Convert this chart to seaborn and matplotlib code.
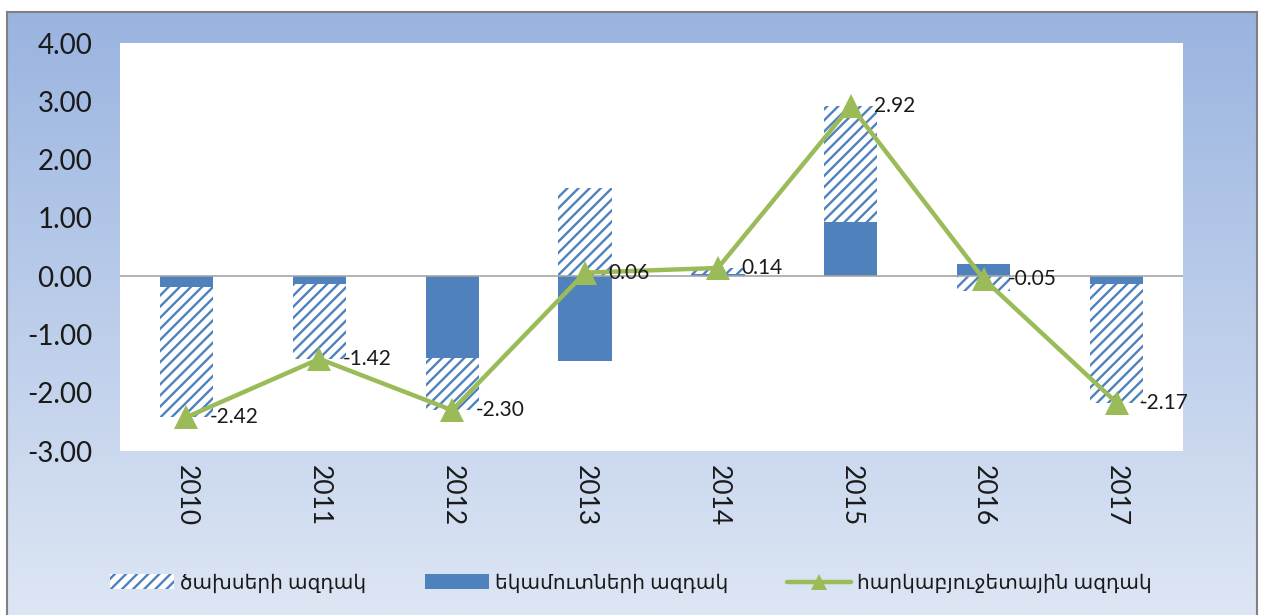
import numpy as np
import pandas as pd
import matplotlib
matplotlib.use("Agg")
import matplotlib.pyplot as plt
import matplotlib.patches as mpatches
from matplotlib.lines import Line2D
from matplotlib.colors import LinearSegmentedColormap
import seaborn as sns

sns.set_theme(style="white")
plt.rcParams['font.family'] = ['Lato', 'DejaVu Sans']
plt.rcParams['hatch.linewidth'] = 1.7

# data
years = ['2010', '2011', '2012', '2013', '2014', '2015', '2016', '2017']
revenue_impulse = [-0.18, -0.14, -1.40, -1.46, 0.04, 0.93, 0.20, -0.14]
spending_impulse = [-2.24, -1.28, -0.90, 1.52, 0.10, 1.99, -0.25, -2.03]
fiscal_impulse = [-2.42, -1.42, -2.30, 0.06, 0.14, 2.92, -0.05, -2.17]

labels = ['ծախսերի ազդակ', 'եկամուտների ազդակ', 'հարկաբյուջետային ազդակ']

blue = '#4F81BD'
green = '#9BBB59'

df = pd.DataFrame({'year': years, 'rev': revenue_impulse,
                   'exp': spending_impulse, 'total': fiscal_impulse})
# spending sits on top of revenue when both have the same sign
same_sign = np.sign(df['rev']) == np.sign(df['exp'])
df['exp_top'] = np.where(same_sign, df['rev'] + df['exp'], df['exp'])

fig = plt.figure(figsize=(12.62, 6.15), dpi=100)
fig.patch.set_facecolor('white')

# gradient background with grey frame
bg = fig.add_axes([7 / 1262, 0, 1250 / 1262, 603 / 615])
grad = LinearSegmentedColormap.from_list('bg', ['#9AB4E0', '#DDE6F4'])
bg.imshow(np.linspace(0, 1, 256).reshape(-1, 1), aspect='auto', cmap=grad,
          extent=[0, 1, 0, 1])
bg.set_xticks([])
bg.set_yticks([])
bg.spines['bottom'].set_visible(False)
for s in ['top', 'left', 'right']:
    bg.spines[s].set_color('#808080')
    bg.spines[s].set_linewidth(1.5)

ax = fig.add_axes([120 / 1262, 164 / 615, 1063 / 1262, 408 / 615])
ax.set_facecolor('white')

sns.barplot(data=df, x='year', y='exp_top', color='white', saturation=1,
            width=0.4, hatch='///', edgecolor=blue, linewidth=0, ax=ax)
sns.barplot(data=df, x='year', y='rev', color=blue, saturation=1,
            width=0.4, linewidth=0, ax=ax)
ax.axhline(0, color='#A6A6A6', linewidth=1.2, zorder=1.5)

sns.lineplot(x=np.arange(len(years)), y=df['total'], color=green, linewidth=3.2,
             marker='^', markersize=17, markeredgewidth=0, ax=ax, zorder=5)

for i, v in enumerate(fiscal_impulse):
    ax.annotate(f'{v:.2f}', (i, v), xytext=(17, 0), textcoords='offset points',
                ha='left', va='center', fontsize=15, color='#1a1a1a', zorder=6)

ax.set_xlim(-0.5, len(years) - 0.5)
ax.set_ylim(-3, 4)
ax.set_yticks(np.arange(-3, 5, 1))
ax.set_yticklabels([f'{t:.2f}' for t in np.arange(-3, 5, 1)])
ax.set_xlabel('')
ax.set_ylabel('')
ax.tick_params(axis='y', labelsize=20, pad=20, length=0, labelcolor='#1a1a1a')
ax.tick_params(axis='x', labelsize=19, pad=10, length=0, labelrotation=-90,
               labelcolor='#1a1a1a')
for s in ax.spines.values():
    s.set_visible(False)

handles = [
    mpatches.Patch(facecolor='white', edgecolor=blue, hatch='///', linewidth=0),
    mpatches.Patch(facecolor=blue, linewidth=0),
    Line2D([0], [0], color=green, linewidth=3.2, marker='^', markersize=11,
           markeredgewidth=0),
]
fig.legend(handles, labels, loc='center', bbox_to_anchor=(0.5, 0.052), ncol=3,
           frameon=False, fontsize=14.5, handlelength=3.2, handletextpad=0.3,
           columnspacing=2.9, labelcolor='#1a1a1a')

fig.savefig('out.png', dpi=100, facecolor=fig.get_facecolor())
